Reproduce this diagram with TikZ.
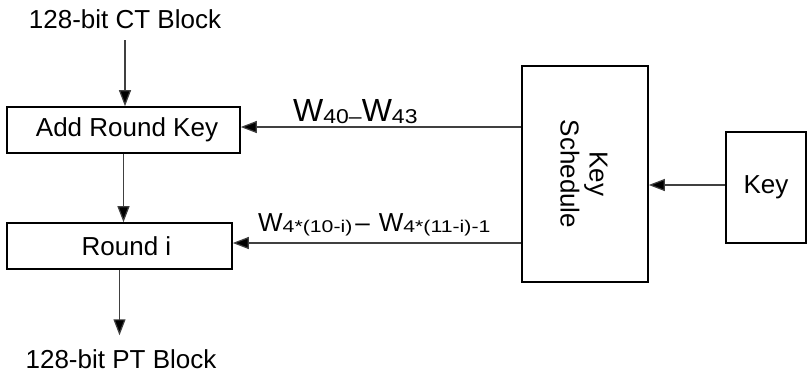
\documentclass[tikz,border=0pt]{standalone}
\usepackage{fontspec}
\usepackage{graphicx}
\setmainfont{Liberation Sans}
\usetikzlibrary{arrows.meta}
\begin{document}
\begin{tikzpicture}[x=1pt,y=-1pt,
  every node/.style={font=\fontsize{26}{29}\selectfont},
  box/.style={draw=black,line width=1.6pt,rectangle,inner sep=0pt},
  conn/.style={line width=1.2pt,draw=black!75,-{Triangle[length=16pt,width=12pt,fill=black]}},
  sub/.style={}]
\useasboundingbox (0,0) rectangle (807,376);

\node[anchor=base,inner xsep=0pt,inner ysep=11.5pt] (ct) at (125,28.3) {128-bit CT Block};
\node[box,minimum width=233pt,minimum height=46pt] (ark) at (123.5,130) {\hspace*{7pt}Add Round Key};
\node[box,minimum width=225pt,minimum height=46pt] (round) at (119.5,246) {\hspace*{14pt}Round i};
\node[anchor=base,inner xsep=0pt,inner ysep=14pt] (pt) at (121,368.3) {128-bit PT Block};

\node[box,minimum width=126pt,minimum height=216pt] (ks) at (585,174) {};
\node[rotate=-90,align=center] (kst) at (584,174) {Key\\Schedule};
\node[box,minimum width=80pt,minimum height=111pt] (key) at (766,187.5) {Key};

\coordinate (ya) at (0,127);
\coordinate (yb) at (0,243);
\coordinate (yc) at (0,185);

\draw[conn] (ct.south) -- (ct.south |- ark.north);
\draw[conn] (ark.south) -- (ark.south |- round.north);
\draw[conn] (round.south) -- (round.south |- pt.north);
\draw[conn] (ks.west |- ya) -- (ark.east |- ya);
\draw[conn] (ks.west |- yb) -- (round.east |- yb);
\draw[conn] (key.west |- yc) -- (ks.east |- yc);

\node[anchor=base west,inner sep=0pt] (wa) at (293,121.7)
  {\fontsize{32}{32}\selectfont W\raisebox{-1.5pt}{\scalebox{1.15}[1]{\fontsize{20}{20}\selectfont 40–}}W\raisebox{-1.5pt}{\scalebox{1.15}[1]{\fontsize{20}{20}\selectfont 43}}};
\node[anchor=base west,inner sep=0pt] (wb) at (258,231.7)
  {W\raisebox{-1pt}{\scalebox{1.25}[1]{\fontsize{17}{17}\selectfont 4*(10-i)}}\hspace{3pt}–\hspace{9pt}W\raisebox{-1pt}{\scalebox{1.25}[1]{\fontsize{17}{17}\selectfont 4*(11-i)-1}}};
\end{tikzpicture}
\end{document}
